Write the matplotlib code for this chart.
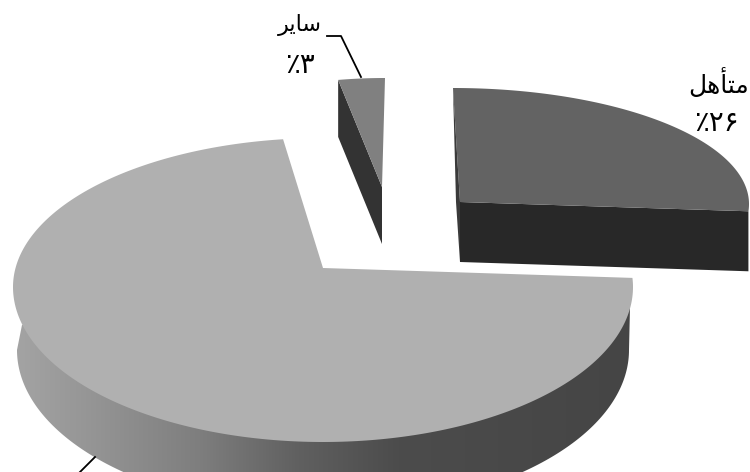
import numpy as np
import matplotlib
matplotlib.use("Agg")
from matplotlib import pyplot as plt
from matplotlib.colors import LinearSegmentedColormap
from matplotlib.patches import Polygon

# Slice values in percent, clockwise from twelve o'clock
categories = ["married", "other", "single"]
values = [26, 71, 3]

# matplotlib has no bidi or shaping, so these are in visual order with presentation forms
label_married = "\ufede\ufeeb\ufe84\ufe98\ufee3"  # متأهل
label_married_pct = "\u066a\u06f2\u06f6"
label_other = "\ufeae\ufbfe\ufe8e\ufeb3"  # سایر
label_other_pct = "\u066a\u06f3"

FIG_W, FIG_H = 750, 472

# How each exploded slice is projected, in pixels. skew is the perspective shift
# of the two slice edges, in degrees
SLICE_STYLE = {
    "married": dict(cx=453, cy=204, rx=296, ry_back=116, ry_front=116, skew=(0, 0),
                    apex=(460, 202), depth=60, top="#636363", wall="#282828"),
    "other": dict(cx=323, cy=287, rx=310, ry_back=149, ry_front=155, skew=(-7.1, 3.4),
                  apex=(323, 268), top="#b0b0b0"),
    "single": dict(cx=385, cy=187, rx=250, ry_back=109, ry_front=109, skew=(0, 0),
                   apex=(382, 187), depth=57, top="#808080", wall="#333333"),
}
# Lower outline of the big slice's rim
RIM = dict(cx=323, cy=350, rx=306, ry_back=161, ry_front=161)

# Shading along the rim of the big slice, left to right
rim_stops = [0, 0.14, 0.30, 0.46, 0.62, 1]
rim_colors = ["#a4a4a4", "#939393", "#7e7e7e", "#606060", "#4c4c4c", "#454545"]


def project(theta, st):
    # theta in radians, clockwise from north; back half is flatter than the front
    theta = np.asarray(theta)
    cos_t = np.cos(theta)
    ry = np.where(cos_t > 0, st["ry_back"], st["ry_front"])
    x = st["cx"] + st["rx"] * np.sin(theta)
    y = st["cy"] - ry * cos_t
    return np.column_stack((x, y))


def slice_arc(name, n=300):
    edges = np.cumsum([0] + values) / sum(values) * 2 * np.pi
    i = categories.index(name)
    st = SLICE_STYLE[name]
    start = edges[i] + np.radians(st["skew"][0])
    stop = edges[i + 1] + np.radians(st["skew"][1])
    return project(np.linspace(start, stop, n), st)


fig = plt.figure(figsize=(FIG_W / 100, FIG_H / 100), dpi=100, facecolor="white")
ax = fig.add_axes([0, 0, 1, 1])

# Big slice: rim first, then the top on it
st = SLICE_STYLE["other"]
rim_arc = project(np.radians(np.linspace(90, 270, 200)), RIM)
rim_pts = np.vstack((rim_arc, [(22, 325)], [(630, 307)]))
rim = Polygon(rim_pts, closed=True, facecolor="none", edgecolor="none")
ax.add_patch(rim)
cmap = LinearSegmentedColormap.from_list("rim", list(zip(rim_stops, rim_colors)))
shade = ax.imshow(np.linspace(0, 1, 256).reshape(1, -1), cmap=cmap, aspect="auto",
                  extent=(13, 634, 520, 300), zorder=1)
shade.set_clip_path(rim)
ax.add_patch(Polygon(np.vstack(([st["apex"]], slice_arc("other"))), closed=True,
                     facecolor=st["top"], edgecolor="none", zorder=2))

# Small slice: only the cut face and the top are visible
st = SLICE_STYLE["single"]
arc = slice_arc("single", 40)
apex = np.array(st["apex"], dtype=float)
ax.add_patch(Polygon(np.vstack((arc[0], apex, apex + [0, st["depth"]], arc[0] + [0, st["depth"]])),
                     closed=True, facecolor=st["wall"], edgecolor="none", zorder=2))
ax.add_patch(Polygon(np.vstack((apex, arc)), closed=True, facecolor=st["top"], edgecolor="none", zorder=3))

# Married slice: cut face along the front, thin wall on the left
st = SLICE_STYLE["married"]
arc = slice_arc("married", 200)
apex = np.array(st["apex"], dtype=float)
ax.add_patch(Polygon(np.vstack((apex, arc[-1], arc[-1] + [0, st["depth"]], apex + [0, st["depth"]])),
                     closed=True, facecolor=st["wall"], edgecolor="none", zorder=2))
ax.add_patch(Polygon(np.vstack((apex, arc)), closed=True, facecolor=st["top"], edgecolor="none", zorder=3))
ax.add_patch(Polygon([arc[0], apex, apex + [0, st["depth"]], (456, 202)], closed=True,
                     facecolor="#3a3a3a", edgecolor="none", zorder=4))

# Leader lines
ax.plot([327, 341, 361], [36, 36, 77], color="black", lw=1.3, zorder=5)
ax.plot([95, 78], [457, 474], color="black", lw=1.3, zorder=5)

# Labels
ax.text(749, 83, label_married, fontsize=18, ha="right", va="center", color="black")
ax.text(716, 123, label_married_pct, fontsize=20, ha="center", va="center", color="black")
ax.text(322, 25, label_other, fontsize=16, ha="right", va="center", color="black")
ax.text(300, 65, label_other_pct, fontsize=20, ha="center", va="center", color="black")

ax.set_xlim(0, FIG_W)
ax.set_ylim(FIG_H, 0)
ax.axis("off")

fig.savefig("out.png", dpi=100, facecolor="white")
